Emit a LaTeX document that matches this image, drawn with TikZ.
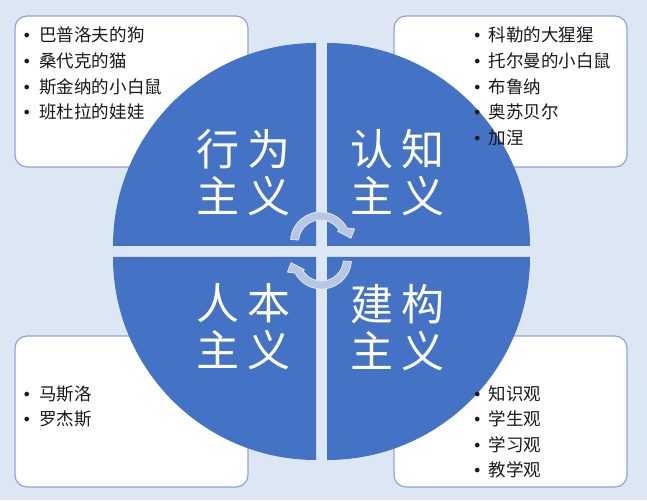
\documentclass[tikz,border=0pt]{standalone}
\usepackage{fontspec}
\newfontfamily\cjk{Noto Sans CJK SC}
\newfontfamily\dejavu{DejaVu Sans}
\definecolor{bg}{HTML}{DDE7F3}
\definecolor{boxline}{HTML}{8FA4D4}
\definecolor{quadblue}{HTML}{4472C4}
\definecolor{arrowfill}{HTML}{B7C6E3}
\definecolor{arrowline}{HTML}{DFE6F5}
\newcommand{\itm}[2]{\makebox[#1][l]{\dejavu\fontsize{16}{16}\selectfont\raisebox{0pt}{•}}#2}
\begin{document}
\begin{tikzpicture}[x=1pt,y=1pt,
  box/.style={draw=boxline, line width=1.2pt, fill=white, rounded corners=12pt},
  quad/.style={fill=quadblue},
  big/.style={text=white, font=\cjk\fontsize{43}{48}\selectfont, anchor=base, inner sep=0pt},
  item/.style={anchor=base west, inner sep=0pt, font=\cjk\fontsize{17.5}{20}\selectfont, text=black!90},
  cyc/.style={fill=arrowfill, draw=arrowline, line width=0.8pt, line join=round}]
\fill[bg] (0,0) rectangle (647,500);
\useasboundingbox (0,0) rectangle (647,500);
% boxes
\draw[box] (15,333) rectangle (248,484);
\draw[box] (394,333) rectangle (627,484);
\draw[box] (15,13) rectangle (248,164);
\draw[box] (394,13) rectangle (627,164);
% quadrants
\fill[quad] (316,254) -- (113,254) arc[start angle=180, end angle=90, radius=203pt] -- cycle;
\fill[quad] (327,254) -- (327,457) arc[start angle=90, end angle=0, radius=203pt] -- cycle;
\fill[quad] (316,243) -- (316,40) arc[start angle=270, end angle=180, radius=203pt] -- cycle;
\fill[quad] (327,243) -- (530,243) arc[start angle=0, end angle=-90, radius=203pt] -- cycle;
% circular arrows
\draw[cyc, shift={(320.5,258)}] (175:22pt) -- (175:30pt) arc[start angle=175, end angle=28, radius=30pt] -- (21:36.5pt) -- (7:30.7pt) -- (32:20.2pt) -- (32:22pt) arc[start angle=32, end angle=175, radius=22pt] -- cycle;
\draw[cyc, shift={(321.5,241)}, rotate=180] (175:22pt) -- (175:30pt) arc[start angle=175, end angle=28, radius=30pt] -- (21:36.5pt) -- (7:30.7pt) -- (32:20.2pt) -- (32:22pt) arc[start angle=32, end angle=175, radius=22pt] -- cycle;
% quadrant labels
\node[big] (tl1) at (243.5,334.7) {行\hspace{9pt}为};
\node[big] (tl2) at (243.5,287.2) {主\hspace{9pt}义};
\node[big] (tr1) at (397.5,334.7) {认\hspace{9pt}知};
\node[big] (tr2) at (397.5,287.2) {主\hspace{9pt}义};
\node[big] (bl1) at (243.5,180.2) {人\hspace{9pt}本};
\node[big] (bl2) at (243.5,133.2) {主\hspace{9pt}义};
\node[big] (br1) at (397.5,179.2) {建\hspace{9pt}构};
\node[big] (br2) at (397.5,132.2) {主\hspace{9pt}义};
% list items
\node[item] (a1) at (22,458.4) {\itm{17.3pt}{巴普洛夫的狗}};
\node[item] (a2) at (22,432.6) {\itm{17.3pt}{桑代克的猫}};
\node[item] (a3) at (22,406.8) {\itm{17.3pt}{斯金纳的小白鼠}};
\node[item] (a4) at (22,381.0) {\itm{17.3pt}{班杜拉的娃娃}};
\node[item] (b1) at (472.3,458.4) {\itm{16pt}{科勒的大猩猩}};
\node[item] (b2) at (472.3,432.6) {\itm{16pt}{托尔曼的小白鼠}};
\node[item] (b3) at (472.3,406.8) {\itm{16pt}{布鲁纳}};
\node[item] (b4) at (472.3,381.0) {\itm{16pt}{奥苏贝尔}};
\node[item] (b5) at (472.3,355.2) {\itm{16pt}{加涅}};
\node[item] (c1) at (22,99.9) {\itm{17.3pt}{马斯洛}};
\node[item] (c2) at (22,74.3) {\itm{17.3pt}{罗杰斯}};
\node[item] (d1) at (472.3,99.9) {\itm{16pt}{知识观}};
\node[item] (d2) at (472.3,74.3) {\itm{16pt}{学生观}};
\node[item] (d3) at (472.3,48.7) {\itm{16pt}{学习观}};
\node[item] (d4) at (472.3,23.1) {\itm{16pt}{教学观}};
\end{tikzpicture}
\end{document}
